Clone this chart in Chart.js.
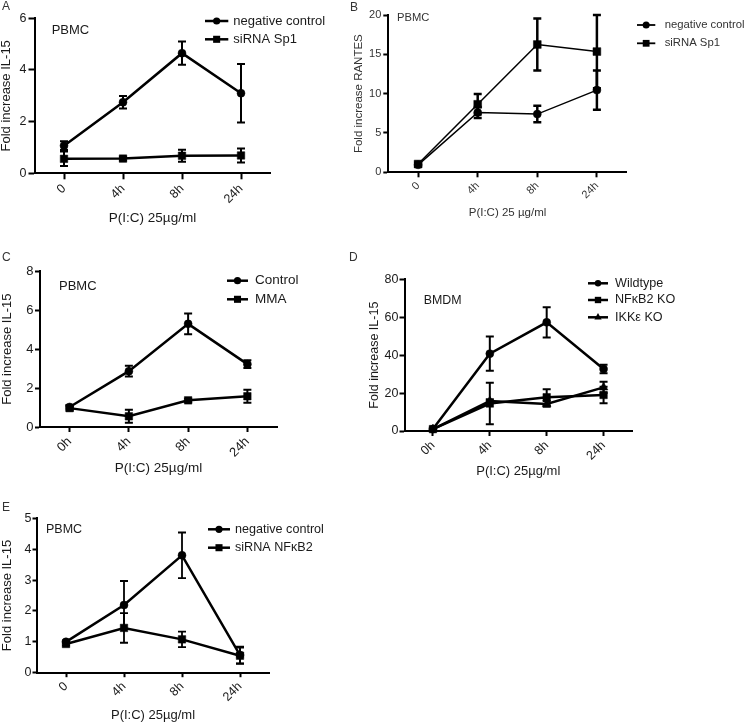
<!DOCTYPE html>
<html><head><meta charset="utf-8">
<script src="https://cdn.jsdelivr.net/npm/chart.js@4.4.1/dist/chart.umd.min.js"></script>
<style>
html,body{margin:0;padding:0;background:#fff;}
body{width:745px;height:723px;position:relative;overflow:hidden;}
canvas{position:absolute;}
</style></head><body>
<canvas id="cA"></canvas><canvas id="cB"></canvas><canvas id="cC"></canvas><canvas id="cD"></canvas><canvas id="cE"></canvas>
<script>
// ---------- DATA ----------
const labelsA = ['0', '4h', '8h', '24h'];
const negCtrlA = [1.07, 2.75, 4.65, 3.10];
const negCtrlAErr = [0.17, 0.24, 0.45, 1.13];
const sp1A = [0.56, 0.57, 0.68, 0.69];
const sp1AErr = [0.28, 0.07, 0.23, 0.27];

const labelsB = ['0', '4h', '8h', '24h'];
const negCtrlB = [0.95, 7.6, 7.4, 10.45];
const negCtrlBErr = [0.2, 0.7, 1.05, 2.5];
const sp1B = [1.05, 8.65, 16.25, 15.35];
const sp1BErr = [0.2, 1.3, 3.3, 4.65];

const labelsC = ['0h', '4h', '8h', '24h'];
const controlC = [1.03, 2.87, 5.3, 3.23];
const controlCErr = [0.1, 0.28, 0.53, 0.2];
const mmaC = [0.97, 0.55, 1.37, 1.58];
const mmaCErr = [0.12, 0.33, 0.08, 0.33];

const labelsD = ['0h', '4h', '8h', '24h'];
const wildtypeD = [1.0, 40.8, 57.3, 32.7];
const wildtypeDErr = [0.5, 9, 8, 2.2];
const nfkb2KoD = [1.0, 14.5, 17.8, 19.0];
const nfkb2KoDErr = [0.5, 11, 4.2, 4.4];
const ikkeKoD = [1.0, 15.8, 14.3, 23.0];
const ikkeKoDErr = [0.5, 1, 1.5, 3.0];

const labelsE = ['0', '4h', '8h', '24h'];
const negCtrlE = [1.0, 2.19, 3.8, 0.57];
const negCtrlEErr = [0.05, 0.78, 0.74, 0.27];
const nfkb2E = [0.93, 1.45, 1.08, 0.55];
const nfkb2EErr = [0.05, 0.48, 0.25, 0.26];

const yTicksA = {max: 6, step: 2};
const yTicksB = {max: 20, step: 5};
const yTicksC = {max: 8, step: 2};
const yTicksD = {max: 80, step: 20};
const yTicksE = {max: 5, step: 1};

// ---------- RENDERING ----------
const FONT = '"Liberation Sans", Arial, Helvetica, sans-serif';

function drawMarker(ctx, style, x, y, r) {
  ctx.beginPath();
  if (style === 'circle') { ctx.arc(x, y, r, 0, Math.PI * 2); }
  else if (style === 'rect') { const s = r * Math.SQRT1_2; ctx.rect(x - s, y - s, 2 * s, 2 * s); }
  else if (style === 'triangle') {
    const h = r * 1.5;
    ctx.moveTo(x, y - r); ctx.lineTo(x + r * 0.866 * 1.0, y + r * 0.5); ctx.lineTo(x - r * 0.866, y + r * 0.5); ctx.closePath();
  }
  ctx.fillStyle = '#000'; ctx.fill();
}

const errorBarPlugin = {
  id: 'errorBars',
  afterDatasetsDraw(chart, args, o) {
    const ctx = chart.ctx, yS = chart.scales.y;
    ctx.save();
    ctx.strokeStyle = '#000'; ctx.lineWidth = o.width; ctx.lineCap = 'butt';
    chart.data.datasets.forEach((ds, i) => {
      if (!ds.errors) return;
      const meta = chart.getDatasetMeta(i);
      meta.data.forEach((pt, j) => {
        const e = ds.errors[j], v = ds.data[j];
        if (!e) return;
        const x = pt.x, yT = yS.getPixelForValue(v + e), yB = yS.getPixelForValue(Math.max(v - e, 0));
        ctx.beginPath();
        ctx.moveTo(x, yT); ctx.lineTo(x, yB);
        ctx.moveTo(x - o.cap, yT); ctx.lineTo(x + o.cap, yT);
        ctx.moveTo(x - o.cap, yB); ctx.lineTo(x + o.cap, yB);
        ctx.stroke();
      });
    });
    ctx.restore();
  }
};

const textPlugin = {
  id: 'panelText',
  afterDraw(chart, args, o) {
    const ctx = chart.ctx, ox = o.ox, oy = o.oy;
    ctx.save();
    ctx.textBaseline = 'middle'; ctx.textAlign = 'left';
    (o.texts || []).forEach(t => {
      ctx.font = t.size + 'px ' + FONT; ctx.fillStyle = t.color;
      ctx.fillText(t.text, t.x - ox, t.y - oy);
    });
    const lg = o.legend;
    if (lg) {
      chart.data.datasets.forEach((ds, i) => {
        const y = lg.ys[i] - oy;
        ctx.strokeStyle = '#000'; ctx.lineWidth = lg.lw;
        ctx.beginPath(); ctx.moveTo(lg.x1 - ox, y); ctx.lineTo(lg.x2 - ox, y); ctx.stroke();
        drawMarker(ctx, ds.pointStyle, (lg.x1 + lg.x2) / 2 - ox, y, lg.r[i]);
        ctx.font = lg.size + 'px ' + FONT; ctx.fillStyle = lg.color;
        ctx.fillText(ds.label, lg.tx - ox, y);
      });
    }
    ctx.restore();
  }
};

function makePanel(p) {
  const cv = document.getElementById(p.id);
  cv.width = p.w; cv.height = p.h;
  Object.assign(cv.style, {left: p.cx + 'px', top: p.cy + 'px', width: p.w + 'px', height: p.h + 'px'});
  const yWidth = p.plot.l - p.cx;
  const xHeight = p.xTitleY + p.xTitleSize / 2 - p.plot.b;
  const padTop = p.plot.t - p.cy;
  const padRight = p.cx + p.w - p.plot.r;
  const padBottom = p.cy + p.h - (p.plot.b + xHeight);
  const yTitlePad = p.yTitleX - p.cx - p.yTitleSize / 2;
  const tickFont = {family: FONT, size: p.tickSize};
  new Chart(cv, {
    type: 'line',
    data: {
      labels: p.labels,
      datasets: p.series.map(s => ({
        label: s.label, data: s.data, errors: s.err,
        borderColor: '#000', backgroundColor: '#000', borderWidth: p.lineW,
        pointStyle: s.style, pointRadius: s.r, pointHoverRadius: s.r,
        pointBackgroundColor: '#000', pointBorderColor: '#000', pointBorderWidth: 0.5,
        tension: 0, fill: false, clip: false
      }))
    },
    options: {
      responsive: false, animation: false, devicePixelRatio: 1,
      events: [],
      layout: {padding: {top: padTop, right: padRight, bottom: padBottom, left: 0}},
      plugins: {
        legend: {display: false}, tooltip: {enabled: false},
        errorBars: {width: p.errW, cap: p.cap},
        panelText: {ox: p.cx, oy: p.cy, texts: p.texts, legend: p.legend}
      },
      scales: {
        x: {
          type: 'category', offset: true,
          grid: {display: true, drawOnChartArea: false, drawTicks: true, tickLength: p.tickLen, tickWidth: p.axisW, tickColor: '#000'},
          border: {display: true, color: '#000', width: p.axisW},
          ticks: {color: p.textColor, font: tickFont, minRotation: 45, maxRotation: 45, autoSkip: false, padding: p.xTickPad},
          title: {display: true, text: p.xTitle, color: p.textColor, font: {family: FONT, size: p.xTitleSize, lineHeight: 1}, padding: 0},
          afterFit: s => { s.height = xHeight; }
        },
        y: {
          type: 'linear', min: 0, max: p.yTicks.max,
          grid: {display: true, drawOnChartArea: false, drawTicks: true, tickLength: p.tickLen, tickWidth: p.axisW, tickColor: '#000'},
          border: {display: true, color: '#000', width: p.axisW},
          ticks: {stepSize: p.yTicks.step, color: p.textColor, font: tickFont, padding: p.yTickPad},
          title: {display: true, text: p.yTitle, color: p.textColor, font: {family: FONT, size: p.yTitleSize, lineHeight: 1}, padding: {top: yTitlePad, bottom: 0}},
          afterFit: s => { s.width = yWidth; }
        }
      }
    },
    plugins: [errorBarPlugin, textPlugin]
  });
}

const TXT = '#1a1a1a';

makePanel({
  id: 'cA', cx: 0, cy: 0, w: 345, h: 230,
  plot: {l: 34.5, t: 18.3, r: 270.5, b: 173.3},
  labels: labelsA, yTicks: yTicksA,
  series: [
    {label: 'negative control', data: negCtrlA, err: negCtrlAErr, style: 'circle', r: 4},
    {label: 'siRNA Sp1', data: sp1A, err: sp1AErr, style: 'rect', r: 5.3}
  ],
  lineW: 2.5, errW: 2, cap: 4, axisW: 2, tickLen: 6, xTickPad: 2, yTickPad: 2,
  tickSize: 12.5, textColor: TXT,
  yTitle: 'Fold increase IL-15', yTitleSize: 13, yTitleX: 6.5,
  xTitle: 'P(I:C) 25µg/ml', xTitleSize: 13.5, xTitleY: 218.3,
  texts: [
    {text: 'A', x: 2, y: 7, size: 12, color: '#333'},
    {text: 'PBMC', x: 51.7, y: 30, size: 13, color: TXT}
  ],
  legend: {x1: 205, x2: 228.3, tx: 233.3, ys: [21, 39.3], r: [3.6, 5], lw: 2.5, size: 13, color: TXT}
});

makePanel({
  id: 'cB', cx: 345, cy: 0, w: 400, h: 225,
  plot: {l: 388.3, t: 15, r: 626.7, b: 172.3},
  labels: labelsB, yTicks: yTicksB,
  series: [
    {label: 'negative control', data: negCtrlB, err: negCtrlBErr, style: 'circle', r: 4},
    {label: 'siRNA Sp1', data: sp1B, err: sp1BErr, style: 'rect', r: 5.5}
  ],
  lineW: 1.5, errW: 2.5, cap: 4, axisW: 2, tickLen: 5, xTickPad: 2, yTickPad: 2,
  tickSize: 11, textColor: '#333',
  yTitle: 'Fold increase RANTES', yTitleSize: 11.5, yTitleX: 358.5,
  xTitle: 'P(I:C) 25 µg/ml', xTitleSize: 11.5, xTitleY: 213.3,
  texts: [
    {text: 'B', x: 350, y: 7.5, size: 12, color: '#333'},
    {text: 'PBMC', x: 397, y: 18.3, size: 11.2, color: '#333'}
  ],
  legend: {x1: 637, x2: 655.3, tx: 664.7, ys: [25, 43.3], r: [3.5, 4.8], lw: 1.8, size: 11.3, color: '#333'}
});

makePanel({
  id: 'cC', cx: 0, cy: 250, w: 345, h: 230,
  plot: {l: 40, t: 271.3, r: 277, b: 427},
  labels: labelsC, yTicks: yTicksC,
  series: [
    {label: 'Control', data: controlC, err: controlCErr, style: 'circle', r: 4},
    {label: 'MMA', data: mmaC, err: mmaCErr, style: 'rect', r: 5.3}
  ],
  lineW: 2.5, errW: 2, cap: 4, axisW: 2, tickLen: 5, xTickPad: 2, yTickPad: 1.5,
  tickSize: 13, textColor: TXT,
  yTitle: 'Fold increase IL-15', yTitleSize: 13, yTitleX: 7.5,
  xTitle: 'P(I:C) 25µg/ml', xTitleSize: 13.5, xTitleY: 468.3,
  texts: [
    {text: 'C', x: 2, y: 258, size: 12, color: '#333'},
    {text: 'PBMC', x: 59, y: 286.7, size: 13, color: TXT}
  ],
  legend: {x1: 227, x2: 248, tx: 255, ys: [280.7, 299.3], r: [3.6, 5], lw: 2.5, size: 13.5, color: TXT}
});

makePanel({
  id: 'cD', cx: 345, cy: 250, w: 400, h: 230,
  plot: {l: 404.5, t: 279.3, r: 632, b: 431},
  labels: labelsD, yTicks: yTicksD,
  series: [
    {label: 'Wildtype', data: wildtypeD, err: wildtypeDErr, style: 'circle', r: 4},
    {label: 'NFκB2 KO', data: nfkb2KoD, err: nfkb2KoDErr, style: 'rect', r: 5.3},
    {label: 'IKKε KO', data: ikkeKoD, err: ikkeKoDErr, style: 'triangle', r: 5}
  ],
  lineW: 2.5, errW: 2, cap: 4, axisW: 2, tickLen: 5, xTickPad: 2, yTickPad: 1,
  tickSize: 12.5, textColor: TXT,
  yTitle: 'Fold increase IL-15', yTitleSize: 12.5, yTitleX: 375,
  xTitle: 'P(I:C) 25µg/ml', xTitleSize: 13, xTitleY: 471.7,
  texts: [
    {text: 'D', x: 349, y: 258, size: 12, color: '#333'},
    {text: 'BMDM', x: 423.7, y: 300.7, size: 12.4, color: TXT}
  ],
  legend: {x1: 588, x2: 608, tx: 615, ys: [283.3, 300, 317.3], r: [3.2, 4.5, 4.2], lw: 2.5, size: 12.6, color: TXT}
});

makePanel({
  id: 'cE', cx: 0, cy: 500, w: 345, h: 223,
  plot: {l: 37, t: 518.3, r: 269, b: 672.7},
  labels: labelsE, yTicks: yTicksE,
  series: [
    {label: 'negative control', data: negCtrlE, err: negCtrlEErr, style: 'circle', r: 4},
    {label: 'siRNA NFκB2', data: nfkb2E, err: nfkb2EErr, style: 'rect', r: 5.3}
  ],
  lineW: 2.5, errW: 1.8, cap: 4, axisW: 2, tickLen: 4.5, xTickPad: 2, yTickPad: 1,
  tickSize: 12.5, textColor: TXT,
  yTitle: 'Fold increase IL-15', yTitleSize: 13, yTitleX: 7.5,
  xTitle: 'P(I:C) 25µg/ml', xTitleSize: 13, xTitleY: 715.7,
  texts: [
    {text: 'E', x: 2, y: 508, size: 12, color: '#333'},
    {text: 'PBMC', x: 46, y: 530, size: 12.5, color: TXT}
  ],
  legend: {x1: 208, x2: 230, tx: 235, ys: [529.3, 547.7], r: [3.6, 5], lw: 2.5, size: 12.6, color: TXT}
});
</script>
</body></html>
